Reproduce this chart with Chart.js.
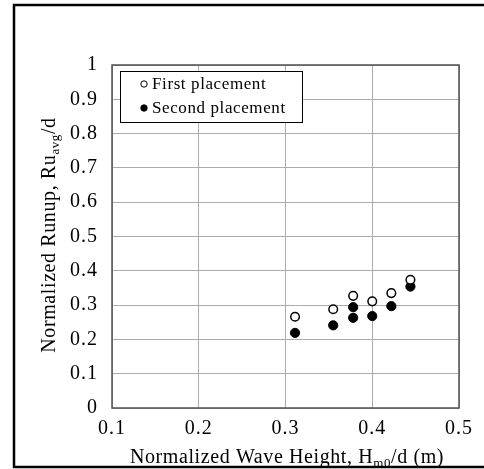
<!DOCTYPE html>
<html>
<head>
<meta charset="utf-8">
<script src="https://cdn.jsdelivr.net/npm/chart.js@4.4.0/dist/chart.umd.min.js"></script>
<style>
html,body{margin:0;padding:0;background:#fff;}
#wrap{width:484px;height:469px;position:relative;}
</style>
</head>
<body>
<div id="wrap"><canvas id="c" width="484" height="469"></canvas></div>
<script>
const xTicks = [0.1, 0.2, 0.3, 0.4, 0.5];
const yTicks = [0, 0.1, 0.2, 0.3, 0.4, 0.5, 0.6, 0.7, 0.8, 0.9, 1];
const seriesNames = ['First placement', 'Second placement'];
const firstX = [0.311, 0.355, 0.378, 0.400, 0.422, 0.444];
const firstY = [0.266, 0.288, 0.327, 0.311, 0.335, 0.374];
const secondX = [0.311, 0.355, 0.378, 0.378, 0.400, 0.422, 0.444];
const secondY = [0.219, 0.241, 0.294, 0.263, 0.268, 0.297, 0.354];
const xTitle = ['Normalized Wave Height, H', 'm0', '/d (m)'];
const yTitle = ['Normalized Runup, Ru', 'avg', '/d'];

const FONT = '"Liberation Serif", "Times New Roman", serif';
const toPts = (xs, ys) => xs.map((x, i) => ({x: x, y: ys[i]}));

const decor = {
  id: 'decor',
  beforeDraw(chart) {
    const ctx = chart.ctx;
    ctx.save();
    ctx.fillStyle = '#fff';
    ctx.fillRect(0, 0, chart.width, chart.height);
    ctx.restore();
    ctx.letterSpacing = '1px';
  },
  afterDraw(chart) {
    const ctx = chart.ctx;
    const ca = chart.chartArea;
    ctx.save();
    // outer frame
    ctx.strokeStyle = '#000';
    ctx.lineWidth = 2.5;
    ctx.beginPath();
    ctx.moveTo(chart.width + 5, 5);
    ctx.lineTo(14, 5);
    ctx.lineTo(14, 467);
    ctx.lineTo(chart.width + 5, 467);
    ctx.stroke();
    // plot border
    ctx.strokeStyle = '#505050';
    ctx.lineWidth = 1.5;
    ctx.strokeRect(ca.left, ca.top, ca.right - ca.left, ca.bottom - ca.top);

    // legend
    const lx = 120.5, ly = 71.5, lw = 182, lh = 51;
    ctx.fillStyle = '#fff';
    ctx.fillRect(lx, ly, lw, lh);
    ctx.strokeStyle = '#000';
    ctx.lineWidth = 1;
    ctx.strokeRect(lx, ly, lw, lh);
    ctx.font = '17px ' + FONT;
    ctx.letterSpacing = '0.6px';
    ctx.textBaseline = 'middle';
    ctx.textAlign = 'left';
    const rows = [84, 108];
    chart.data.datasets.forEach((ds, i) => {
      const cy = rows[i];
      ctx.beginPath();
      ctx.arc(144, cy, 3.2, 0, Math.PI * 2);
      ctx.fillStyle = ds.backgroundColor;
      ctx.fill();
      ctx.lineWidth = 1;
      ctx.strokeStyle = '#000';
      ctx.stroke();
      ctx.fillStyle = '#000';
      ctx.fillText(ds.label, 152, cy + 1);
    });

    // axis titles with subscripts
    const big = '20px ' + FONT, small = '13px ' + FONT;
    ctx.letterSpacing = '0.6px';
    function drawTitle(parts, cx, cy) {
      ctx.font = big; const w0 = ctx.measureText(parts[0]).width;
      ctx.font = small; const w1 = ctx.measureText(parts[1]).width;
      ctx.font = big; const w2 = ctx.measureText(parts[2]).width;
      let x = cx - (w0 + w1 + w2) / 2;
      ctx.fillStyle = '#000';
      ctx.textBaseline = 'alphabetic';
      ctx.textAlign = 'left';
      ctx.font = big; ctx.fillText(parts[0], x, cy); x += w0;
      ctx.font = small; ctx.fillText(parts[1], x, cy + 4); x += w1;
      ctx.font = big; ctx.fillText(parts[2], x, cy);
    }
    drawTitle(xTitle, 287, 463);
    ctx.save();
    ctx.translate(55, 235);
    ctx.rotate(-Math.PI / 2);
    drawTitle(yTitle, 0, 0);
    ctx.restore();
    ctx.restore();
  }
};

new Chart(document.getElementById('c'), {
  type: 'scatter',
  data: {
    datasets: [
      {
        label: seriesNames[0],
        data: toPts(firstX, firstY),
        backgroundColor: '#ffffff',
        borderColor: '#000000',
        borderWidth: 1.5,
        pointRadius: 4.3,
        pointHoverRadius: 4.3
      },
      {
        label: seriesNames[1],
        data: toPts(secondX, secondY),
        backgroundColor: '#000000',
        borderColor: '#000000',
        borderWidth: 1,
        pointRadius: 4.6,
        pointHoverRadius: 4.6
      }
    ]
  },
  plugins: [decor],
  options: {
    responsive: false,
    animation: false,
    devicePixelRatio: 1,
    layout: { padding: { left: 14, right: 25, top: 65, bottom: 0 } },
    plugins: {
      legend: { display: false },
      tooltip: { enabled: false },
      title: { display: false }
    },
    scales: {
      x: {
        type: 'linear',
        min: xTicks[0],
        max: xTicks[xTicks.length - 1],
        afterBuildTicks: (s) => { s.ticks = xTicks.map(v => ({value: v})); },
        afterFit: (s) => { s.height = 61; },
        grid: { color: '#ababab', lineWidth: 1, tickLength: 0, drawTicks: false },
        border: { display: false },
        ticks: {
          color: '#000',
          font: { family: FONT, size: 20 },
          padding: 9,
          maxRotation: 0,
          callback: (v) => String(Number(v.toFixed(1)))
        }
      },
      y: {
        type: 'linear',
        min: yTicks[0],
        max: yTicks[yTicks.length - 1],
        afterBuildTicks: (s) => { s.ticks = yTicks.map(v => ({value: v})); },
        afterFit: (s) => { s.width = 98; },
        grid: { color: '#ababab', lineWidth: 1, tickLength: 0, drawTicks: false },
        border: { display: false },
        ticks: {
          color: '#000',
          font: { family: FONT, size: 20 },
          padding: 14,
          callback: (v) => String(Number(v.toFixed(1)))
        }
      }
    }
  }
});
</script>
</body>
</html>
